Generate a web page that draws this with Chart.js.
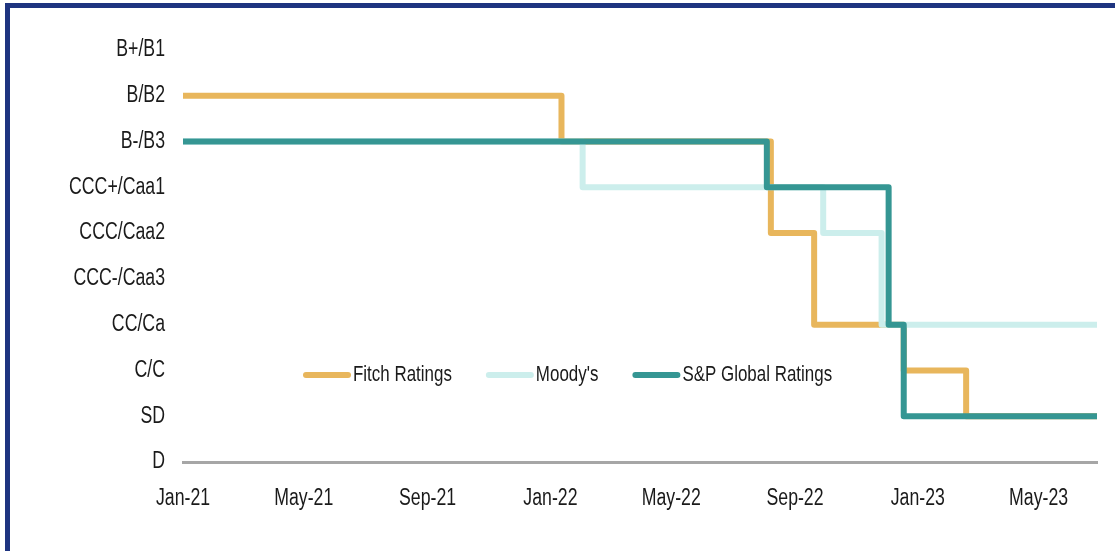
<!DOCTYPE html>
<html>
<head>
<meta charset="utf-8">
<script src="https://cdn.jsdelivr.net/npm/chart.js@4.4.0/dist/chart.umd.min.js"></script>
<style>
  html, body { margin: 0; padding: 0; background: #fff; }
  #wrap { position: relative; width: 1115px; height: 551px; overflow: hidden; }
  #frame {
    position: absolute; left: 5px; top: 3px; width: 1200px; height: 700px;
    border-left: 5px solid #1E3480; border-top: 5px solid #1E3480;
  }
  #chart { position: absolute; left: 0; top: 0; }
</style>
</head>
<body>
<div id="wrap">
  <div id="frame"></div>
  <canvas id="chart" width="1115" height="551"></canvas>
</div>
<script>
// no narrow font installed, so text is squeezed horizontally when drawn
const FONT = "'Liberation Sans', Arial, sans-serif";
const SQUEEZE = 0.77;
const TEXT_COLOR = "#1a1a1a";

// rating scale, bottom to top
const ratingLabels = ["D", "SD", "C/C", "CC/Ca", "CCC-/Caa3", "CCC/Caa2", "CCC+/Caa1", "B-/B3", "B/B2", "B+/B1"];

const tickLabels = ["Jan-21", "May-21", "Sep-21", "Jan-22", "May-22", "Sep-22", "Jan-23", "May-23"];
const tickDates = ["2021-01-01", "2021-05-01", "2021-09-01", "2022-01-01", "2022-05-01", "2022-09-01", "2023-01-01", "2023-05-01"];
const startDate = "2021-01-01";
const endDate = "2023-06-28";

const fitchDates = ["2021-01-01", "2022-01-12", "2022-08-08", "2022-09-20", "2022-12-18", "2023-02-18", "2023-06-28"];
const fitchRatings = ["B/B2", "B-/B3", "CCC/Caa2", "CC/Ca", "C/C", "SD", "SD"];

const moodysDates = ["2021-01-01", "2022-02-02", "2022-09-29", "2022-11-26", "2023-06-28"];
const moodysRatings = ["B-/B3", "CCC+/Caa1", "CCC/Caa2", "CC/Ca", "CC/Ca"];

const spDates = ["2021-01-01", "2022-08-04", "2022-12-03", "2022-12-18", "2023-06-28"];
const spRatings = ["B-/B3", "CCC+/Caa1", "CC/Ca", "SD", "SD"];

function dayNum(s) {
  const p = s.split("-").map(Number);
  return (Date.UTC(p[0], p[1] - 1, p[2]) - Date.UTC(2021, 0, 1)) / 86400000;
}

function toPoints(dates, ratings) {
  return dates.map((d, i) => ({ x: dayNum(d), y: ratingLabels.indexOf(ratings[i]) }));
}

function narrowText(ctx, text, x, y, align, size) {
  ctx.save();
  ctx.font = size + "px " + FONT;
  ctx.fillStyle = TEXT_COLOR;
  ctx.textAlign = align;
  ctx.textBaseline = "middle";
  ctx.translate(x, y);
  ctx.scale(SQUEEZE, 1);
  ctx.fillText(text, 0, 0);
  const w = ctx.measureText(text).width * SQUEEZE;
  ctx.restore();
  return w;
}

// axis labels and legend, drawn with the narrow text
const labelsAndLegend = {
  id: "labelsAndLegend",
  afterDatasetsDraw(chart) {
    const ctx = chart.ctx;
    const xs = chart.scales.x, ys = chart.scales.y;

    ratingLabels.forEach((lab, i) => {
      narrowText(ctx, lab, 165, ys.getPixelForValue(i), "right", 23);
    });
    tickDates.forEach((d, i) => {
      narrowText(ctx, tickLabels[i], xs.getPixelForValue(dayNum(d)), xs.top + 37, "center", 23);
    });

    const y = ys.getPixelForValue(1.9);
    let x = chart.chartArea.left + 120;
    chart.data.datasets.forEach(ds => {
      ctx.save();
      ctx.strokeStyle = ds.borderColor;
      ctx.lineWidth = 6;
      ctx.lineCap = "round";
      ctx.beginPath();
      ctx.moveTo(x + 3, y);
      ctx.lineTo(x + 45, y);
      ctx.stroke();
      ctx.restore();
      const w = narrowText(ctx, ds.label, x + 50, y, "left", 22);
      x += 50 + w + 34;
    });
  }
};

const lineStyle = {
  stepped: "before",
  pointRadius: 0,
  borderWidth: 6,
  borderJoinStyle: "round",
  fill: false
};

new Chart(document.getElementById("chart").getContext("2d"), {
  type: "line",
  data: {
    datasets: [
      Object.assign({ label: "Fitch Ratings", data: toPoints(fitchDates, fitchRatings), borderColor: "#E8B65C", order: 3 }, lineStyle),
      Object.assign({ label: "Moody's", data: toPoints(moodysDates, moodysRatings), borderColor: "#CCEEEC", order: 2 }, lineStyle),
      Object.assign({ label: "S&P Global Ratings", data: toPoints(spDates, spRatings), borderColor: "#359693", order: 1 }, lineStyle)
    ]
  },
  options: {
    responsive: false,
    animation: false,
    layout: { padding: { top: 50, right: 18, bottom: 0, left: 0 } },
    plugins: {
      legend: { display: false },
      tooltip: { enabled: false }
    },
    scales: {
      x: {
        type: "linear",
        min: dayNum(startDate),
        max: dayNum(endDate),
        grid: { display: false },
        border: { display: true, color: "#A6A6A6", width: 3 },
        afterBuildTicks(scale) {
          scale.ticks = tickDates.map(d => ({ value: dayNum(d) }));
        },
        afterFit(scale) { scale.height = 89; },
        ticks: { display: false }
      },
      y: {
        type: "linear",
        min: 0,
        max: 9,
        grid: { display: false },
        border: { display: false },
        afterFit(scale) { scale.width = 183; },
        ticks: { display: false, stepSize: 1 }
      }
    }
  },
  plugins: [labelsAndLegend]
});
</script>
</body>
</html>
